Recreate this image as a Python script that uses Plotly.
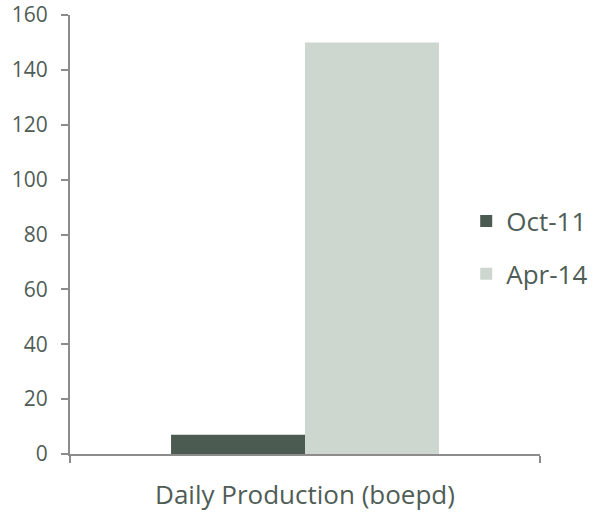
import plotly.graph_objects as go

categories = ["Daily Production (boepd)"]
series_names = ["Oct-11", "Apr-14"]
oct11_values = [7]
apr14_values = [150]
colors = ["#4b5b52", "#cdd7cf"]

text_color = "#4f5d56"
font_family = "Open Sans, Lato, sans-serif"

fig = go.Figure()
for name, vals, col in zip(series_names, [oct11_values, apr14_values], colors):
    fig.add_trace(go.Bar(x=categories, y=vals, name=name, marker_color=col,
                         marker_line_width=0, legendgroup=name))

fig.update_layout(
    width=597, height=512,
    margin=dict(l=70, r=57, t=15, b=58, autoexpand=False),
    plot_bgcolor="white", paper_bgcolor="white",
    barmode="group", bargap=0.43, bargroupgap=0,
    font=dict(family=font_family, color=text_color),
    legend=dict(x=0.843, y=0.47, xanchor="left", yanchor="middle",
                font=dict(size=26, color=text_color), tracegroupgap=16,
                bgcolor="rgba(0,0,0,0)"),
)
fig.update_yaxes(range=[0, 160], dtick=20, showgrid=False, zeroline=False,
                 showline=True, linecolor="#8c8c8c", linewidth=2,
                 ticks="outside", ticklen=7, tickcolor="#8c8c8c", tickwidth=2,
                 tickfont=dict(size=21, color=text_color), automargin=False,
                 ticklabelstandoff=9)
fig.update_xaxes(showline=True, linecolor="#8c8c8c", linewidth=2,
                 ticks="outside", tickson="boundaries", ticklen=7,
                 tickcolor="#8c8c8c", tickwidth=2,
                 tickfont=dict(size=26, color=text_color),
                 ticklabelstandoff=17, automargin=False)

fig.write_html("out.html")
